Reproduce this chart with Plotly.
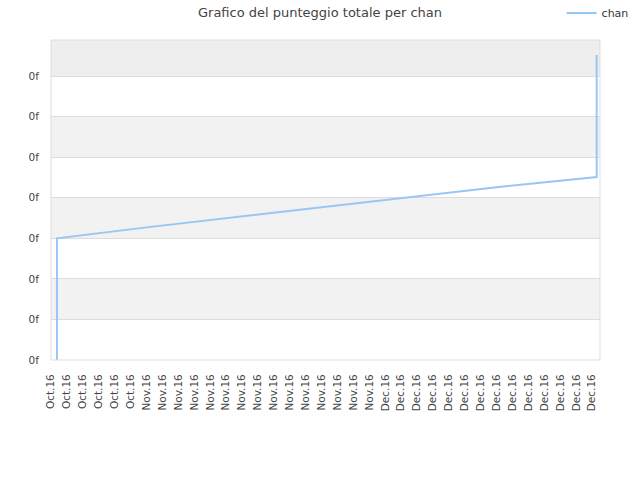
import plotly.graph_objects as go

# Data
dates = ["2016-10-20 18:00", "2016-10-20 18:00", "2016-10-20 18:00",
         "2016-11-01", "2016-11-15", "2016-12-01", "2016-12-15",
         "2016-12-27 14:00", "2016-12-27 14:00"]
scores = [0.0, 0.5, 3.0, 3.27, 3.59, 3.95, 4.26, 4.51, 7.52]
series_name = "chan"

tick_dates = (["2016-10-%02d" % d for d in range(20, 31, 2)] +
              ["2016-11-%02d" % d for d in range(1, 30, 2)] +
              ["2016-12-%02d" % d for d in range(1, 28, 2)])
tick_text = (["Oct.16"] * 6 + ["Nov.16"] * 15 + ["Dec.16"] * 14)
y_ticks = list(range(8))
y_text = ["0f"] * 8

fig = go.Figure()
fig.add_trace(go.Scatter(x=dates, y=scores, mode="lines", name=series_name,
                         line=dict(color="#99c7f5", width=2)))

shapes = []
for lo, hi, col in [(1, 2, "#f2f2f2"), (3, 4, "#f2f2f2"), (5, 6, "#f2f2f2"), (7, 7.89, "#eeeeee")]:
    shapes.append(dict(type="rect", xref="paper", yref="y", x0=0, x1=1, y0=lo, y1=hi,
                       fillcolor=col, line=dict(width=0), layer="below"))
shapes.append(dict(type="rect", xref="paper", yref="paper", x0=0, x1=1, y0=0, y1=1,
                   line=dict(color="#dddddd", width=1), layer="above"))

fig.update_layout(
    width=640, height=480,
    margin=dict(l=51, r=40, t=40, b=120, autoexpand=False),
    paper_bgcolor="white", plot_bgcolor="white",
    font=dict(family="DejaVu Sans", size=10.5, color="#444444"),
    title=dict(text="Grafico del punteggio totale per chan", x=0.5, xanchor="center",
               xref="container", yref="container",
               y=1 - 12 / 480, yanchor="middle", font=dict(size=13, color="#444444")),
    showlegend=True,
    legend=dict(xref="container", yref="container", x=0.99, xanchor="right",
                y=1 - 13 / 480, yanchor="middle", font=dict(size=11, color="#333333"),
                bgcolor="rgba(0,0,0,0)", itemwidth=30),
    shapes=shapes,
    xaxis=dict(type="date", range=["2016-10-20", "2016-12-28"],
               tickvals=tick_dates, ticktext=tick_text, tickangle=-90,
               showgrid=False, zeroline=False, showline=False,
               ticks="outside", ticklen=9, tickcolor="rgba(0,0,0,0)",
               automargin=False, tickfont=dict(size=10.5, color="#444444")),
    yaxis=dict(range=[0, 7.89], tickvals=y_ticks, ticktext=y_text,
               showgrid=True, gridcolor="#dddddd", gridwidth=1, zeroline=False,
               automargin=False, showline=False,
               ticks="outside", ticklen=9, tickcolor="rgba(0,0,0,0)",
               tickfont=dict(size=10.5, color="#444444")),
)

fig.write_html("out.html", config={"displayModeBar": False},
               post_script="document.body.style.margin='0';")
